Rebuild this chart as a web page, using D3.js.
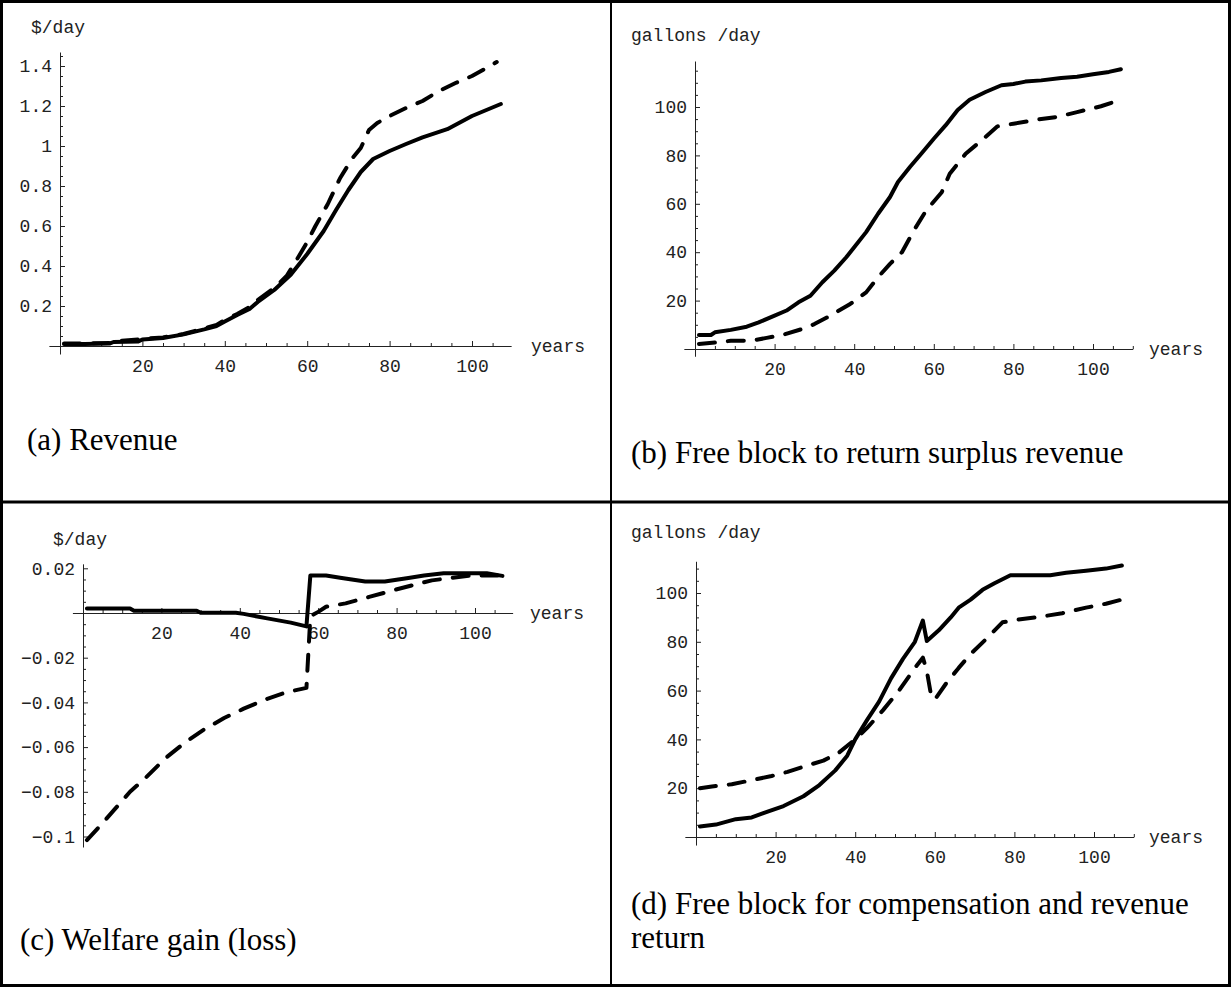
<!DOCTYPE html>
<html>
<head>
<meta charset="utf-8">
<script src="https://cdn.jsdelivr.net/npm/d3@7/dist/d3.min.js"></script>
<style>
  html, body { margin: 0; padding: 0; background: #fff; }
  .tick text { font-family: "Liberation Mono", "Courier New", monospace; font-size: 18px; fill: #222; }
  .lbl { font-family: "Liberation Mono", "Courier New", monospace; font-size: 18px; fill: #222; }
  .cap { font-family: "Liberation Serif", "Times New Roman", serif; font-size: 31px; fill: #000; }
</style>
</head>
<body>
<script>
// (a) revenue, $/day
var revSolidYears  = [1, 6, 12, 13, 19, 20, 25, 30, 35, 38, 40, 43, 46, 48, 52, 56, 60, 64, 67, 70, 73, 76, 80, 84, 88, 94, 100, 107];
var revSolid       = [0.01, 0.01, 0.012, 0.02, 0.022, 0.033, 0.04, 0.058, 0.083, 0.10, 0.122, 0.155, 0.185, 0.22, 0.28, 0.356, 0.46, 0.575, 0.68, 0.78, 0.87, 0.935, 0.975, 1.01, 1.043, 1.084, 1.15, 1.21];
var revDashYears   = [1, 12, 13, 20, 25, 30, 35, 38, 40, 43, 46, 48, 52, 55, 58, 60, 62, 65, 68, 71, 73, 75, 77, 80, 84, 88, 92, 96, 100, 104, 106];
var revDash        = [0.012, 0.015, 0.022, 0.035, 0.043, 0.06, 0.088, 0.105, 0.13, 0.16, 0.195, 0.23, 0.29, 0.35, 0.45, 0.52, 0.6, 0.71, 0.84, 0.94, 0.99, 1.08, 1.115, 1.15, 1.19, 1.225, 1.275, 1.315, 1.35, 1.395, 1.42];

// (b) free block to return surplus revenue, gallons/day
var fbSolidYears   = [1, 4, 5, 9, 13, 16, 20, 23, 26, 29, 32, 35, 38, 40, 43, 46, 49, 51, 54, 57, 60, 63, 66, 69, 73, 77, 80, 83, 87, 92, 96, 100, 104, 107];
var fbSolid        = [5.8, 5.8, 6.9, 7.9, 9.2, 11, 13.8, 15.9, 19.3, 22, 27.6, 32.4, 37.9, 42, 48.3, 55.9, 62.8, 69, 75.2, 81, 86.9, 92.5, 98.8, 103, 106.2, 109, 109.5, 110.5, 111, 112, 112.5, 113.5, 114.5, 115.6];
var fbDashYears    = [1, 6, 9, 14, 18, 22, 27, 30, 34, 39, 43, 46, 49, 52, 55, 58, 62, 64, 68, 72, 76, 80, 86, 91, 96, 102, 107];
var fbDash         = [2.1, 2.8, 3.4, 3.4, 4.6, 5.8, 8.3, 10.3, 13.8, 18.6, 23.4, 29.7, 35.2, 40, 49, 57, 64.8, 72.4, 80.7, 86.2, 92, 93.1, 94.8, 95.9, 97.9, 100.3, 103];

// (c) welfare gain (loss), $/day
var welSolidYears  = [1, 12, 13, 29, 30, 39, 41, 47, 53, 57, 58, 62, 66, 72, 77, 83, 87, 92, 103, 107];
var welSolid       = [0.002, 0.002, 0.001, 0.001, 0.0001, 0.0001, -0.0004, -0.0024, -0.0043, -0.006, 0.0168, 0.0168, 0.0157, 0.0141, 0.0141, 0.0157, 0.0168, 0.0178, 0.0178, 0.0166];
var welDashYears   = [1, 5, 8, 12, 16, 21, 26, 31, 36, 41, 47, 52, 57, 58, 60, 62, 67, 73, 79, 84, 89, 94, 99, 107];
var welDash        = [-0.1016, -0.094, -0.088, -0.080, -0.0737, -0.065, -0.058, -0.052, -0.047, -0.0428, -0.0384, -0.0354, -0.0335, -0.0015, 0.0005, 0.0028, 0.0043, 0.0072, 0.0101, 0.0124, 0.0146, 0.0157, 0.0168, 0.0168];

// (d) free block for compensation and revenue return, gallons/day
var fcSolidYears   = [1, 5, 10, 14, 18, 22, 27, 31, 35, 38, 40, 43, 46, 49, 52, 55, 57, 58, 61, 64, 66, 69, 72, 75, 79, 89, 93, 98, 103, 107];
var fcSolid        = [4.3, 5.1, 7.3, 8, 10.4, 12.7, 16.7, 21.3, 27.3, 33.3, 40, 48, 55.5, 65, 73, 80, 88.7, 80.3, 84.7, 90, 94, 97.3, 101.3, 104, 107.3, 107.3, 108.3, 109.1, 110, 111.3];
var fcDashYears    = [1, 4, 9, 14, 19, 23, 28, 32, 36, 40, 43, 47, 51, 55, 57, 58, 59, 60, 63, 66, 69, 73, 77, 81, 87, 92, 98, 103, 107];
var fcDash         = [20, 20.7, 21.6, 23.3, 25, 26.7, 29.3, 31.3, 34.7, 40, 44.7, 52, 60, 69.3, 73.5, 68, 58.7, 56.3, 63.3, 69.3, 75, 81.3, 88, 89.1, 90.4, 91.7, 94, 95.6, 97.3];

var xTicks      = [20, 40, 60, 80, 100];
var revTicks    = [0.2, 0.4, 0.6, 0.8, 1, 1.2, 1.4];
var galTicks    = [20, 40, 60, 80, 100];
var welTicks    = [-0.1, -0.08, -0.06, -0.04, -0.02, 0.02];

var W = 1231, H = 987;

var svg = d3.select("body").append("svg")
    .attr("width", W)
    .attr("height", H);

function zip(xs, ys) {
    return xs.map(function(x, i) { return {x: x, y: ys[i]}; });
}

function minorTicks(domain, step, majors) {
    var out = [];
    var start = Math.ceil(domain[0] / step) * step;
    for (var v = start; v <= domain[1] + 1e-9; v += step) {
        var r = +v.toFixed(6);
        if (r === 0) continue;
        if (majors.some(function(m) { return Math.abs(m - r) < 1e-9; })) continue;
        out.push(r);
    }
    return out;
}

function fmt(d) {
    var s = String(+d.toFixed(3));
    return s.replace("-", "\u2212");
}

function drawPanel(p) {
    var g = svg.append("g");

    var x = d3.scaleLinear().domain([0, 100]).range(p.xRange);
    var y = d3.scaleLinear().domain(p.yDom).range(p.yRange);

    var x0 = x(0), y0 = y(0);

    // x axis (ticks point up, labels below)
    var xa = d3.scaleLinear().domain(p.xAxisDom).range([x(p.xAxisDom[0]), x(p.xAxisDom[1])]);
    g.append("g")
        .attr("transform", "translate(0," + y0 + ")")
        .call(d3.axisBottom(xa).tickValues(xTicks).tickSize(-5).tickSizeOuter(0).tickPadding(13).tickFormat(fmt))
        .call(function(s) { s.select(".domain").attr("stroke", "#222"); s.selectAll(".tick line").attr("stroke", "#222"); });
    g.append("g")
        .attr("transform", "translate(0," + y0 + ")")
        .call(d3.axisBottom(xa).tickValues(minorTicks([0, p.xAxisDom[1]], 5, xTicks)).tickSize(-3).tickSizeOuter(0).tickFormat(""))
        .call(function(s) { s.select(".domain").remove(); s.selectAll(".tick line").attr("stroke", "#222"); });

    // y axis (ticks point right, labels left)
    var ya = d3.scaleLinear().domain(p.yAxisDom).range([y(p.yAxisDom[0]), y(p.yAxisDom[1])]);
    g.append("g")
        .attr("transform", "translate(" + x0 + ",0)")
        .call(d3.axisLeft(ya).tickValues(p.yTicks).tickSize(-5).tickSizeOuter(0).tickPadding(8).tickFormat(fmt))
        .call(function(s) { s.select(".domain").attr("stroke", "#222"); s.selectAll(".tick line").attr("stroke", "#222"); });
    g.append("g")
        .attr("transform", "translate(" + x0 + ",0)")
        .call(d3.axisLeft(ya).tickValues(minorTicks(p.yAxisDom, p.yMinor, p.yTicks)).tickSize(-3).tickSizeOuter(0).tickFormat(""))
        .call(function(s) { s.select(".domain").remove(); s.selectAll(".tick line").attr("stroke", "#222"); });

    var line = d3.line()
        .x(function(d) { return x(d.x); })
        .y(function(d) { return y(d.y); });

    g.append("path")
        .datum(zip(p.solidX, p.solidY))
        .attr("d", line)
        .attr("fill", "none")
        .attr("stroke", "#000")
        .attr("stroke-width", 4)
        .attr("stroke-linejoin", "round")
        .attr("stroke-linecap", "round");

    g.append("path")
        .datum(zip(p.dashX, p.dashY))
        .attr("d", line)
        .attr("fill", "none")
        .attr("stroke", "#000")
        .attr("stroke-width", 4)
        .attr("stroke-linejoin", "round")
        .attr("stroke-linecap", "round")
        .attr("stroke-dasharray", "16,13");

    g.append("text").attr("class", "lbl")
        .attr("x", p.yLabelPos[0]).attr("y", p.yLabelPos[1])
        .text(p.yLabel);

    g.append("text").attr("class", "lbl")
        .attr("x", p.yearsX).attr("y", y0 + 6)
        .text("years");

    p.caption.forEach(function(c, i) {
        g.append("text").attr("class", "cap")
            .attr("x", p.capPos[0]).attr("y", p.capPos[1] + i * 34)
            .text(c);
    });
}

var panels = [
    {xRange: [60, 472], yDom: [0, 1.4], yRange: [346, 66], xAxisDom: [-2.7, 109.5], yAxisDom: [-0.04, 1.47],
     yTicks: revTicks, yMinor: 0.05, solidX: revSolidYears, solidY: revSolid, dashX: revDashYears, dashY: revDash,
     yLabel: "$/day", yLabelPos: [31, 33], yearsX: 531, caption: ["(a) Revenue"], capPos: [27, 450]},
    {xRange: [695, 1093], yDom: [0, 100], yRange: [349, 107], xAxisDom: [-2.8, 110], yAxisDom: [-3, 119],
     yTicks: galTicks, yMinor: 5, solidX: fbSolidYears, solidY: fbSolid, dashX: fbDashYears, dashY: fbDash,
     yLabel: "gallons /day", yLabelPos: [631, 41], yearsX: 1149, caption: ["(b) Free block to return surplus revenue"], capPos: [631, 463]},
    {xRange: [83, 475], yDom: [0, 0.02], yRange: [613, 568.3], xAxisDom: [-2.7, 109.6], yAxisDom: [-0.1047, 0.022],
     yTicks: welTicks, yMinor: 0.005, solidX: welSolidYears, solidY: welSolid, dashX: welDashYears, dashY: welDash,
     yLabel: "$/day", yLabelPos: [53, 545], yearsX: 530, caption: ["(c) Welfare gain (loss)"], capPos: [20, 950]},
    {xRange: [696, 1094], yDom: [0, 100], yRange: [837, 593], xAxisDom: [-2.8, 110], yAxisDom: [-3.3, 113],
     yTicks: galTicks, yMinor: 5, solidX: fcSolidYears, solidY: fcSolid, dashX: fcDashYears, dashY: fcDash,
     yLabel: "gallons /day", yLabelPos: [631, 538], yearsX: 1149, caption: ["(d) Free block for compensation and revenue", "return"], capPos: [631, 914]}
];

panels.forEach(drawPanel);

// table frame
svg.append("rect").attr("x", 1.5).attr("y", 1.5).attr("width", W - 3).attr("height", H - 3)
    .attr("fill", "none").attr("stroke", "#000").attr("stroke-width", 3);
svg.append("line").attr("x1", 611).attr("x2", 611).attr("y1", 0).attr("y2", H)
    .attr("stroke", "#000").attr("stroke-width", 2);
svg.append("line").attr("x1", 0).attr("x2", W).attr("y1", 502).attr("y2", 502)
    .attr("stroke", "#000").attr("stroke-width", 3);
</script>
</body>
</html>
